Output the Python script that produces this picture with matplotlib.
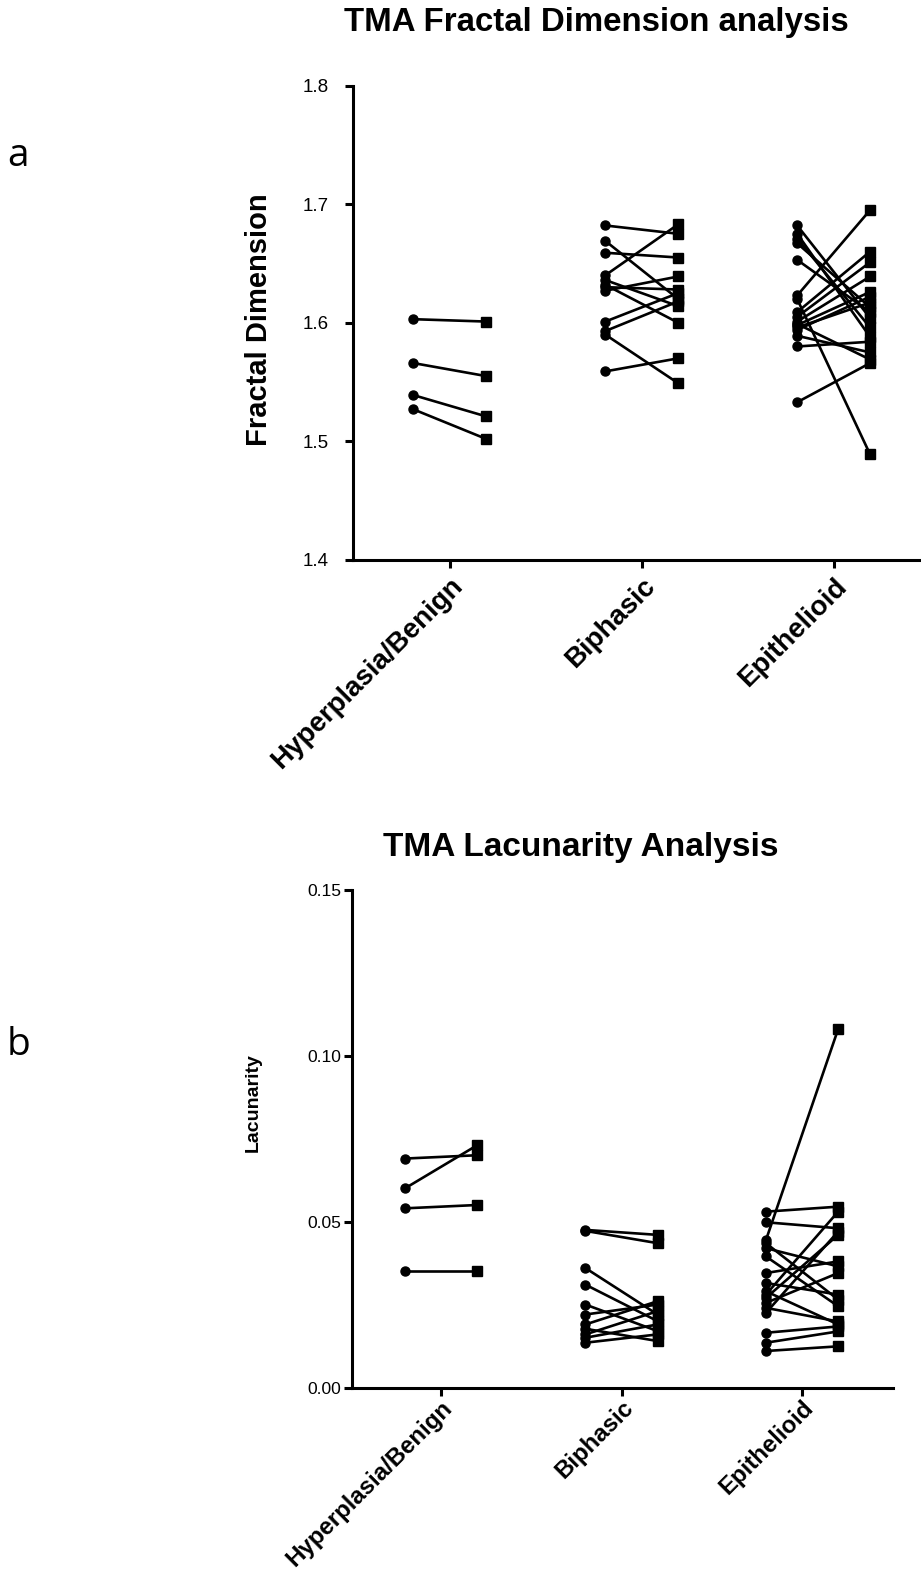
import matplotlib
matplotlib.use("Agg")
import matplotlib.pyplot as plt
import numpy as np

plt.rcParams['font.family'] = ['Liberation Sans', 'DejaVu Sans']

categories = ["Hyperplasia/Benign", "Biphasic", "Epithelioid"]

# Fractal dimension: (before, after) pairs per category
fd_hyper_before = [1.603, 1.566, 1.539, 1.527]
fd_hyper_after = [1.601, 1.555, 1.521, 1.502]
fd_bip_before = [1.682, 1.669, 1.659, 1.640, 1.636, 1.632, 1.627, 1.601, 1.593, 1.590, 1.559, 1.630]
fd_bip_after = [1.675, 1.620, 1.655, 1.683, 1.614, 1.600, 1.639, 1.625, 1.618, 1.549, 1.570, 1.628]
fd_epi_before = [1.682, 1.675, 1.671, 1.667, 1.653, 1.623, 1.620, 1.609, 1.605, 1.601, 1.598, 1.596, 1.594, 1.589, 1.580, 1.533, 1.599]
fd_epi_after = [1.604, 1.588, 1.596, 1.613, 1.609, 1.695, 1.489, 1.660, 1.651, 1.639, 1.626, 1.617, 1.622, 1.575, 1.584, 1.566, 1.569]

# Lacunarity pairs
lac_hyper_before = [0.069, 0.060, 0.054, 0.035]
lac_hyper_after = [0.070, 0.073, 0.055, 0.035]
lac_bip_before = [0.0475, 0.0472, 0.036, 0.031, 0.025, 0.022, 0.019, 0.0177, 0.016, 0.015, 0.0135]
lac_bip_after = [0.046, 0.0435, 0.022, 0.020, 0.017, 0.025, 0.026, 0.014, 0.023, 0.019, 0.016]
lac_epi_before = [0.053, 0.0498, 0.0444, 0.0435, 0.042, 0.0395, 0.0345, 0.0315, 0.028, 0.027, 0.0255, 0.024, 0.0225, 0.0165, 0.0135, 0.011, 0.029]
lac_epi_after = [0.0545, 0.048, 0.108, 0.0265, 0.0365, 0.0245, 0.038, 0.028, 0.053, 0.046, 0.0345, 0.0199, 0.047, 0.0184, 0.0169, 0.0124, 0.019]

W, H = 921, 1576
fig = plt.figure(figsize=(W / 100, H / 100), dpi=100)

def fx(px):
    return px / W

def fy(py):
    return 1 - py / H

def style_axes(ax, lw=2.2):
    for s in ['top', 'right']:
        ax.spines[s].set_visible(False)
    for s in ['left', 'bottom']:
        ax.spines[s].set_linewidth(lw)
    ax.tick_params(axis='both', width=lw, length=5.5, direction='out')

def draw_pairs(ax, pos, before, after, off):
    for b, a in zip(before, after):
        ax.plot([pos - off, pos + off], [b, a], color='black', lw=1.9, zorder=2,
                solid_capstyle='butt')
    ax.plot([pos - off] * len(before), before, 'o', color='black', ms=6.5, zorder=3)
    ax.plot([pos + off] * len(after), after, 's', color='black', ms=6.5, zorder=3)

# ---------- top panel ----------
ax1 = fig.add_axes([fx(353), fy(560), fx(920 - 353), (560 - 85.5) / H])
style_axes(ax1)
groups = [(fd_hyper_before, fd_hyper_after), (fd_bip_before, fd_bip_after), (fd_epi_before, fd_epi_after)]
for i, (b, a) in enumerate(groups):
    draw_pairs(ax1, i, b, a, 0.19)
ax1.set_ylim(1.4, 1.8)
ax1.set_yticks([1.4, 1.5, 1.6, 1.7, 1.8])
ax1.set_yticklabels(['1.4', '1.5', '1.6', '1.7', '1.8'], fontsize=13.5)
ax1.tick_params(axis='y', pad=12)
ax1.set_xlim(-0.505, 2.45)
ax1.set_xticks(range(3))
ax1.set_xticklabels(categories, rotation=45, ha='right', rotation_mode='anchor',
                    fontsize=20, fontweight='bold')
ax1.tick_params(axis='x', pad=4)
fig.text(fx(596), fy(23), "TMA Fractal Dimension analysis", ha='center', va='center',
         fontsize=23.8, fontweight='bold')
fig.text(fx(259), fy(320), "Fractal Dimension", ha='center', va='center', rotation=90,
         fontsize=21, fontweight='bold')

# ---------- bottom panel ----------
ax2 = fig.add_axes([fx(352), fy(1387.5), fx(893 - 352), (1387.5 - 889.8) / H])
style_axes(ax2)
groups2 = [(lac_hyper_before, lac_hyper_after), (lac_bip_before, lac_bip_after), (lac_epi_before, lac_epi_after)]
for i, (b, a) in enumerate(groups2):
    draw_pairs(ax2, i, b, a, 0.2)
ax2.set_ylim(0.0, 0.15)
ax2.set_yticks([0.0, 0.05, 0.10, 0.15])
ax2.set_yticklabels(['0.00', '0.05', '0.10', '0.15'], fontsize=12.6)
ax2.tick_params(axis='y', pad=2)
ax2.set_xlim(-0.493, 2.504)
ax2.set_xticks(range(3))
ax2.set_xticklabels(categories, rotation=45, ha='right', rotation_mode='anchor',
                    fontsize=17.3, fontweight='bold')
ax2.tick_params(axis='x', pad=1)
fig.text(fx(581), fy(848), "TMA Lacunarity Analysis", ha='center', va='center',
         fontsize=24, fontweight='bold')
fig.text(fx(253), fy(1103), "Lacunarity", ha='center', va='center', rotation=90,
         fontsize=14, fontweight='bold')

# panel labels
fig.text(fx(18), fy(156), "a", ha='center', va='center', fontsize=28, family=['Open Sans', 'DejaVu Sans'])
fig.text(fx(18), fy(1045), "b", ha='center', va='center', fontsize=28, family=['Open Sans', 'DejaVu Sans'])

fig.savefig("out.png", dpi=100)
